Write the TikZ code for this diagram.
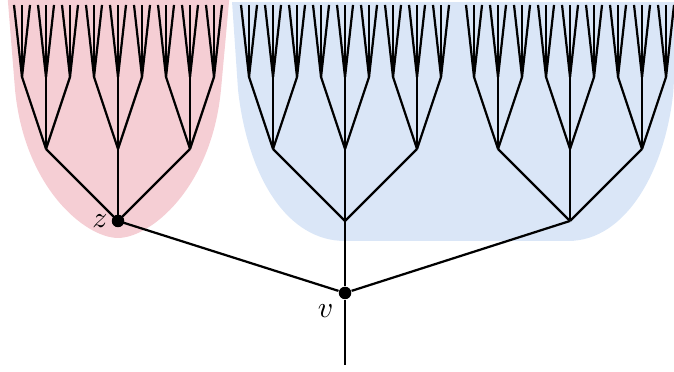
\documentclass[tikz,border=0pt]{standalone}
\usetikzlibrary{calc}

\definecolor{zpink}{RGB}{245,206,212}
\definecolor{vblue}{RGB}{218,230,247}

\tikzset{
	edge/.style={line width=0.75pt,black},
	dot/.style={circle,fill=black,inner sep=0pt,minimum size=4.2pt},
	lbl/.style={inner sep=1pt}
}

\begin{document}
\begin{tikzpicture}[x=0.85cm,y=0.85cm]
	\useasboundingbox (-4.792,-1.097) rectangle (4.569,4.069);

	% shaded regions
	\fill[zpink] (-4.694,4.2) -- (-4.583,2.82)
		.. controls (-4.45,1.45) and (-3.6,0.764) .. (-3.153,0.764)
		.. controls (-2.706,0.764) and (-1.856,1.45) .. (-1.723,2.82) -- (-1.597,4.2) -- cycle;
	\fill[vblue] (-1.569,4.04) -- (-1.486,2.82)
		.. controls (-1.35,1.6) and (-0.8,0.722) .. (0,0.722) -- (3.1,0.722)
		.. controls (3.9,0.722) and (4.45,1.7) .. (4.56,2.8) -- (4.6,3.5) -- (4.6,4.04) -- cycle;

	% root
	\coordinate (root) at (0,-1);
	\node[dot] (v) at (0,0) {};
	\draw[edge] (v) -- (root);

	% the tree, level by level
	\foreach \i/\x in {1/-3.153,2/0,3/3.125} {
		\coordinate (n\i) at (\x,1);
		\draw[edge] (v) -- (n\i);
		\foreach \j in {1,2,3} {
			\coordinate (n\i\j) at ($(n\i)+(\j-2,1)$);
			\draw[edge] (n\i) -- (n\i\j);
			\foreach \k in {1,2,3} {
				\coordinate (n\i\j\k) at ($(n\i\j)+({(\k-2)/3},1)$);
				\draw[edge] (n\i\j) -- (n\i\j\k);
				\foreach \l in {1,2,3} {
					\coordinate (n\i\j\k\l) at ($(n\i\j\k)+({(\l-2)/9},1)$);
					\draw[edge] (n\i\j\k) -- (n\i\j\k\l);
				}
			}
		}
	}

	% marked vertices
	\node[dot,label={[lbl]left:$z$}] (z) at (n1) {};
	\node[lbl] (vlbl) at (-0.27,-0.25) {$v$};
\end{tikzpicture}
\end{document}
